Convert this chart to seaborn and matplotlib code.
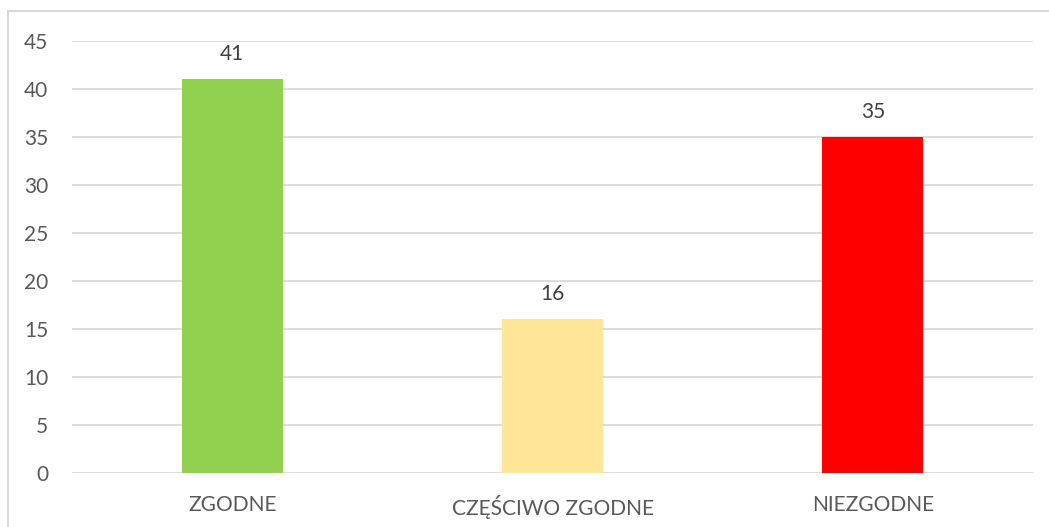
import matplotlib
matplotlib.use("Agg")
import matplotlib.pyplot as plt
from matplotlib.lines import Line2D
import pandas as pd
import seaborn as sns

# ── Data ─────────────────────────────────────────────────────────────────────
categories = ["ZGODNE", "CZĘŚCIWO ZGODNE", "NIEZGODNE"]
counts = [41, 16, 35]
bar_colors = ["#92D050", "#FFE699", "#FF0000"]
y_ticks = [0, 5, 10, 15, 20, 25, 30, 35, 40, 45]

GRID = "#D9D9D9"
TEXT = "#595959"
FS = 15

sns.set_theme(style="white")
plt.rcParams["font.family"] = ["Lato", "DejaVu Sans"]

df = pd.DataFrame({"kategoria": categories, "liczba": counts})

fig = plt.figure(figsize=(10.49, 5.27), dpi=100)
ax = fig.add_axes([72 / 1049, 1 - 473 / 527, (1033 - 72) / 1049, (473 - 41) / 527])

sns.barplot(data=df, x="kategoria", y="liczba", hue="kategoria",
            palette=bar_colors, width=0.315, saturation=1, legend=False, ax=ax,
            linewidth=0, zorder=3)

ax.set_ylim(0, 45)
ax.set_yticks(y_ticks)
ax.yaxis.grid(True, color=GRID, linewidth=1.3, zorder=0)
ax.set_axisbelow(True)
for s in ax.spines.values():
    s.set_visible(False)
ax.tick_params(axis="both", length=0, labelsize=FS, colors=TEXT)
ax.tick_params(axis="y", pad=17)
ax.tick_params(axis="x", pad=16)
ax.set_xlabel("")
ax.set_ylabel("")

# value labels above bars
for container in ax.containers:
    ax.bar_label(container, padding=11, fontsize=FS, color="#404040")

# chart border (left and top edges visible)
fig.add_artist(Line2D([8 / 1049, 8 / 1049], [0, 1 - 11 / 527], color=GRID, lw=1.5))
fig.add_artist(Line2D([8 / 1049, 1], [1 - 11 / 527, 1 - 11 / 527], color=GRID, lw=1.5))

fig.savefig("out.png", dpi=100)
